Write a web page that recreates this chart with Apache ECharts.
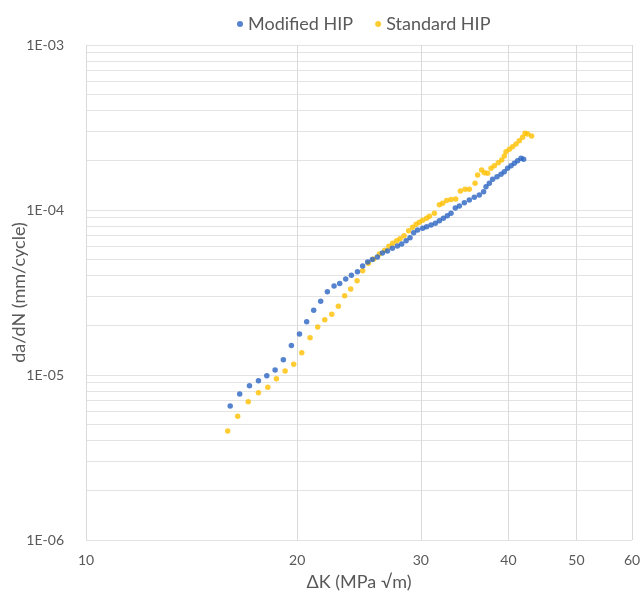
<!DOCTYPE html>
<html>
<head>
<meta charset="utf-8">
<title>da/dN vs dK</title>
<script src="https://cdn.jsdelivr.net/npm/echarts@6/dist/echarts.min.js"></script>
<style>
  html, body { margin: 0; padding: 0; background: #fff; }
  #main { width: 641px; height: 594px; }
</style>
</head>
<body>
<div id="main"></div>
<script>
// Modified HIP: dK (MPa sqrt m) and da/dN (mm/cycle)
var modK = [16.05, 16.56, 17.10, 17.61, 18.10, 18.60, 19.11, 19.62, 20.15, 20.63,
  21.11, 21.60, 22.08, 22.57, 22.99, 23.45, 23.89, 24.37, 24.79, 25.20,
  25.59, 26.02, 26.45, 26.89, 27.33, 27.78, 28.18, 28.59, 28.96, 29.31,
  29.69, 30.19, 30.58, 31.03, 31.47, 31.89, 32.31, 32.73, 33.13, 33.60,
  34.05, 34.61, 35.18, 35.76, 36.35, 36.87, 37.16, 37.57, 37.98, 38.53,
  39.04, 39.46, 39.89, 40.34, 40.78, 41.22, 41.69, 42.04];
var modRate = [6.49e-6, 7.67e-6, 8.61e-6, 9.24e-6, 9.90e-6, 1.072e-5, 1.238e-5, 1.51e-5, 1.77e-5, 2.10e-5,
  2.47e-5, 2.80e-5, 3.20e-5, 3.46e-5, 3.58e-5, 3.82e-5, 4.02e-5, 4.23e-5, 4.58e-5, 4.84e-5,
  5.01e-5, 5.19e-5, 5.49e-5, 5.64e-5, 5.86e-5, 6.05e-5, 6.22e-5, 6.52e-5, 6.79e-5, 7.28e-5,
  7.56e-5, 7.75e-5, 7.92e-5, 8.11e-5, 8.31e-5, 8.61e-5, 8.91e-5, 9.24e-5, 9.55e-5, 1.028e-4,
  1.057e-4, 1.107e-4, 1.150e-4, 1.194e-4, 1.233e-4, 1.291e-4, 1.384e-4, 1.451e-4, 1.535e-4, 1.592e-4,
  1.646e-4, 1.707e-4, 1.790e-4, 1.856e-4, 1.919e-4, 1.990e-4, 2.058e-4, 2.029e-4];

// Standard HIP
var stdK = [15.92, 16.45, 17.03, 17.61, 18.16, 18.68, 19.22, 19.77, 20.30, 20.86,
  21.39, 21.89, 22.40, 22.89, 23.37, 23.84, 24.34, 24.79, 25.26, 25.70,
  26.19, 26.65, 27.02, 27.36, 27.72, 28.03, 28.40, 28.83, 29.21, 29.54,
  29.86, 30.19, 30.58, 30.86, 31.37, 31.89, 32.23, 32.66, 33.13, 33.64,
  34.16, 34.69, 35.18, 35.85, 36.15, 36.63, 36.96, 37.36, 37.78, 38.19,
  38.69, 39.12, 39.46, 39.68, 40.12, 40.55, 41.01, 41.45, 41.91, 42.24,
  42.60, 43.16];
var stdRate = [4.58e-6, 5.62e-6, 6.89e-6, 7.81e-6, 8.42e-6, 9.50e-6, 1.057e-5, 1.161e-5, 1.365e-5, 1.683e-5,
  1.954e-5, 2.164e-5, 2.333e-5, 2.608e-5, 3.025e-5, 3.321e-5, 3.728e-5, 4.287e-5, 4.754e-5, 5.047e-5,
  5.412e-5, 5.699e-5, 6.026e-5, 6.283e-5, 6.516e-5, 6.700e-5, 6.986e-5, 7.491e-5, 7.855e-5, 8.191e-5,
  8.422e-5, 8.660e-5, 8.906e-5, 9.158e-5, 9.550e-5, 1.077e-4, 1.098e-4, 1.142e-4, 1.158e-4, 1.166e-4,
  1.304e-4, 1.335e-4, 1.335e-4, 1.451e-4, 1.630e-4, 1.747e-4, 1.683e-4, 1.669e-4, 1.790e-4, 1.856e-4,
  1.935e-4, 2.009e-4, 2.125e-4, 2.256e-4, 2.333e-4, 2.419e-4, 2.512e-4, 2.630e-4, 2.758e-4, 2.916e-4,
  2.888e-4, 2.809e-4];

// axis ticks
var xTicks = [10, 20, 30, 40, 50, 60];
var yDecades = [1e-6, 1e-5, 1e-4, 1e-3];
var yMinorSteps = [1, 2, 3, 4, 5, 6, 7, 8, 9];

// both axes are drawn as log10 of the values
function lg(v) { return Math.log10(v); }
function pairs(xs, ys) {
  return xs.map(function (x, i) { return [lg(x), lg(ys[i])]; });
}

var xTickPos = xTicks.map(lg);
var yLabelPos = yDecades.map(function (d) { return Math.round(lg(d)); });
var yGridPos = [];
yDecades.slice(0, 3).forEach(function (d) {
  yMinorSteps.forEach(function (k) { yGridPos.push(lg(k * d)); });
});
yGridPos.push(-3);

var txt = '#595959';
var fontFam = 'Lato, Liberation Sans, sans-serif';

var chart = echarts.init(document.getElementById('main'));
chart.setOption({
  animation: false,
  textStyle: { fontFamily: fontFam },
  legend: {
    top: 10,
    left: 232,
    icon: 'circle',
    itemWidth: 6,
    itemHeight: 6,
    itemGap: 22,
    textStyle: { color: txt, fontSize: 18, fontFamily: fontFam },
    data: ['Modified HIP', 'Standard HIP']
  },
  grid: { left: 86, right: 9, top: 45, bottom: 54, containLabel: false, outerBoundsMode: 'none' },
  xAxis: {
    type: 'value',
    min: 1,
    max: lg(60),
    name: 'ΔK (MPa √m)',
    nameLocation: 'middle',
    nameGap: 33,
    nameMoveOverlap: false,
    nameTextStyle: { color: txt, fontSize: 18 },
    axisLine: { show: false },
    axisTick: { show: false, customValues: xTickPos },
    axisLabel: {
      customValues: xTickPos,
      color: txt,
      fontSize: 14,
      margin: 13,
      formatter: function (v) { return String(Math.round(Math.pow(10, v))); }
    },
    splitLine: { show: true, lineStyle: { color: '#d9d9d9', width: 1 } }
  },
  yAxis: {
    type: 'value',
    min: -6,
    max: -3,
    name: 'da/dN (mm/cycle)',
    nameLocation: 'middle',
    nameGap: 58,
    nameMoveOverlap: false,
    nameTextStyle: { color: txt, fontSize: 18 },
    axisLine: { show: false },
    axisTick: { show: false, customValues: yGridPos },
    axisLabel: {
      customValues: yLabelPos,
      color: txt,
      fontSize: 14,
      margin: 22,
      formatter: function (v) { return '1E-0' + (-Math.round(v)); }
    },
    splitLine: { show: true, lineStyle: { color: '#e3e3e3', width: 1 } }
  },
  series: [
    {
      name: 'Modified HIP',
      type: 'scatter',
      symbol: 'circle',
      symbolSize: 5.5,
      itemStyle: { color: '#2A64C2' },
      data: pairs(modK, modRate),
      z: 3
    },
    {
      name: 'Standard HIP',
      type: 'scatter',
      symbol: 'circle',
      symbolSize: 5.5,
      itemStyle: { color: '#FFC000' },
      data: pairs(stdK, stdRate),
      z: 2
    }
  ]
});
window.onresize = function () { chart.resize(); };
</script>
</body>
</html>
